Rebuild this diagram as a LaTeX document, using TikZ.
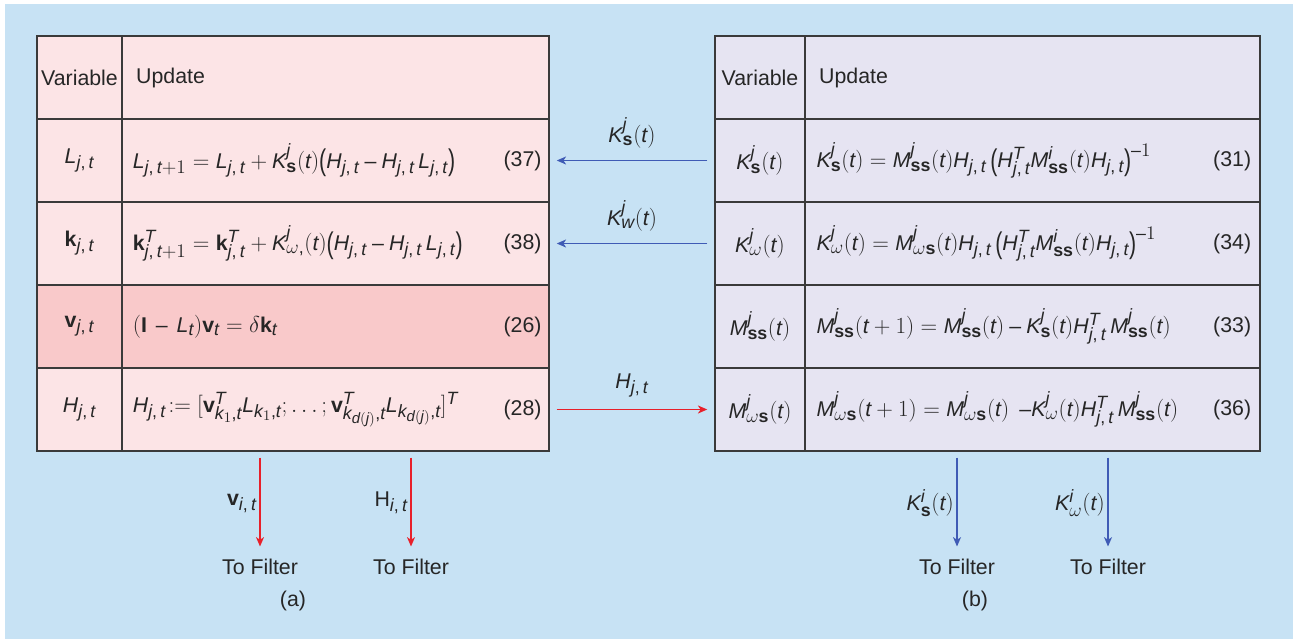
\documentclass[tikz,border=0pt]{standalone}
\usepackage{fontspec}
\setmainfont{Liberation Sans}
\usepackage[italic]{mathastext}
\usepackage{graphicx}
\usetikzlibrary{arrows.meta}
\definecolor{panelbg}{HTML}{C7E2F4}
\definecolor{leftfill}{HTML}{FCE4E6}
\definecolor{hotfill}{HTML}{F9C9CA}
\definecolor{rightfill}{HTML}{E6E4F2}
\definecolor{gridedge}{HTML}{3A3A3A}
\definecolor{kflow}{HTML}{3F5BB5}
\definecolor{hflow}{HTML}{E8202A}
\newcommand{\bigparl}{\mathopen{\raisebox{-2pt}{\scalebox{1}[1.4]{(}}}}
\newcommand{\bigparr}{\mathclose{\raisebox{-2pt}{\scalebox{1}[1.4]{)}}}}

\begin{document}
\begin{tikzpicture}[
  x=0.75pt, y=-0.75pt,
  every node/.style={font=\fontsize{16}{19}\selectfont, text=black!85},
  lvar/.style={rectangle, draw=gridedge, line width=1.1pt, fill=leftfill,
               minimum width=63.75pt, minimum height=62.25pt, inner sep=0pt},
  lupd/.style={lvar, minimum width=320.25pt},
  rvar/.style={rectangle, draw=gridedge, line width=1.1pt, fill=rightfill,
               minimum width=67.5pt, minimum height=62.25pt, inner sep=0pt},
  rupd/.style={rvar, minimum width=341.25pt},
  hot/.style={fill=hotfill},
  eq/.style={anchor=west, inner sep=0pt},
  num/.style={anchor=east, inner sep=0pt},
  kline/.style={draw=kflow, line width=1pt, -{Stealth[length=7pt, width=6pt, inset=2pt]}},
  hline/.style={draw=hflow, line width=1pt, -{Stealth[length=7pt, width=6pt, inset=2pt]}},
  lab/.style={inner sep=2pt},
]
\useasboundingbox (0,0) rectangle (1308,639);
\fill[white] (0,0) rectangle (1308,639);
\fill[panelbg] (5,4) rectangle (1293,639);

% (a) filter side
\node[lvar] (lv0) at (79.5,77.5) {Variable};
\node[lupd] (lu0) at (335.5,77.5) {};
\node[eq] at ([xshift=11pt]lu0.west) {Update};
\node[lvar] (lv1) at (79.5,160.5) {$L_{j,\,t}$};
\node[lupd] (lu1) at (335.5,160.5) {};
\node[eq] at ([xshift=8.5pt]lu1.west) {$L_{j,\,t+1} = L_{j,\,t} + K^j_{\mathbf{s}}(t)\bigparl H_{j,\,t} - H_{j,\,t}\,L_{j,\,t}\bigparr$};
\node[num] at ([xshift=-6pt]lu1.east) {(37)};
\node[lvar] (lv2) at (79.5,243.5) {$\mathbf{k}_{j,\,t}$};
\node[lupd] (lu2) at (335.5,243.5) {};
\node[eq] at ([xshift=8.5pt]lu2.west) {$\mathbf{k}^T_{j,\,t+1} = \mathbf{k}^T_{j,\,t} + K^j_{\omega,}(t)\bigparl H_{j,\,t} - H_{j,\,t}\,L_{j,\,t}\bigparr$};
\node[num] at ([xshift=-6pt]lu2.east) {(38)};
\node[lvar, hot] (lv3) at (79.5,326.5) {$\mathbf{v}_{j,\,t}$};
\node[lupd, hot] (lu3) at (335.5,326.5) {};
\node[eq] at ([xshift=8.5pt]lu3.west) {$(\mathbf{I}\,-\,L_t)\mathbf{v}_t = \delta\mathbf{k}_t$};
\node[num] at ([xshift=-6pt]lu3.east) {(26)};
\node[lvar] (lv4) at (79.5,409.5) {$H_{j,\,t}$};
\node[lupd] (lu4) at (335.5,409.5) {};
\node[eq] at ([xshift=8.5pt]lu4.west) {$H_{j,\,t}\!:=[\mathbf{v}^T_{k_1,t}L_{k_1,t};\ldots;\mathbf{v}^T_{k_{d(j)},t}L_{k_{d(j)},t}]^T$};
\node[num] at ([xshift=-6pt]lu4.east) {(28)};

% (b) gain side
\node[rvar] (rv0) at (760,77.5) {Variable};
\node[rupd] (ru0) at (1032.5,77.5) {};
\node[eq] at ([xshift=11pt]ru0.west) {Update};
\node[rvar] (rv1) at (760,160.5) {$K^j_{\mathbf{s}}(t)$};
\node[rupd] (ru1) at (1032.5,160.5) {};
\node[eq] at ([xshift=9pt]ru1.west) {$K^j_{\mathbf{s}}(t) = M^j_{\mathbf{ss}}(t)H_{j,\,t}\,\bigparl H^T_{j,\,t}M^i_{\mathbf{ss}}(t)H_{j,\,t}\bigparr^{-1}$};
\node[num] at ([xshift=-7pt]ru1.east) {(31)};
\node[rvar] (rv2) at (760,243.5) {$K^j_{\omega}(t)$};
\node[rupd] (ru2) at (1032.5,243.5) {};
\node[eq] at ([xshift=9pt]ru2.west) {$K^j_{\omega}(t) = M^j_{\omega\mathbf{s}}(t)H_{j,\,t}\,\bigparl H^T_{j,\,t}M^i_{\mathbf{ss}}(t)H_{j,\,t}\bigparr^{-1}$};
\node[num] at ([xshift=-7pt]ru2.east) {(34)};
\node[rvar] (rv3) at (760,326.5) {$M^j_{\mathbf{ss}}(t)$};
\node[rupd] (ru3) at (1032.5,326.5) {};
\node[eq] at ([xshift=9pt]ru3.west) {$M^j_{\mathbf{ss}}(t+1) = M^j_{\mathbf{ss}}(t) - K^j_{\mathbf{s}}(t)H^T_{j,\,t}\,M^j_{\mathbf{ss}}(t)$};
\node[num] at ([xshift=-7pt]ru3.east) {(33)};
\node[rvar] (rv4) at (760,409.5) {$M^j_{\omega\mathbf{s}}(t)$};
\node[rupd] (ru4) at (1032.5,409.5) {};
\node[eq] at ([xshift=9pt]ru4.west) {$M^j_{\omega\mathbf{s}}(t+1) = M^j_{\omega\mathbf{s}}(t)\;\,{-}K^j_{\omega}(t)H^T_{j,\,t}\,M^j_{\mathbf{ss}}(t)$};
\node[num] at ([xshift=-7pt]ru4.east) {(36)};

% exchange between the two sides
\draw[kline, shorten <=5.25pt, shorten >=5.25pt] (rv1.west) -- node[above=7pt, lab] {$K^j_{\mathbf{s}}(t)$} (lu1.east);
\draw[kline, shorten <=5.25pt, shorten >=5.25pt] (rv2.west) -- node[above=7pt, lab] {$K^j_{w}(t)$} (lu2.east);
\draw[hline, shorten <=5.25pt, shorten >=5.25pt] (lu4.east) -- node[above=7pt, lab] {$H_{j,\,t}$} (rv4.west);

% outputs
\node (fa1) at (260,567) {To Filter};
\node (fa2) at (411,567) {To Filter};
\node (fb1) at (957,567) {To Filter};
\node (fb2) at (1108,567) {To Filter};
\node (capa) at (293,601) {(a)};
\node (capb) at (975,601) {(b)};
\draw[hline, shorten <=4.5pt, shorten >=6pt] (fa1 |- lu4.south) -- node[left, lab] {$\mathbf{v}_{i,\,t}$} (fa1);
\draw[hline, shorten <=4.5pt, shorten >=6pt] (fa2 |- lu4.south) -- node[left, lab] {$\mathrm{H}_{i,\,t}$} (fa2);
\draw[kline, shorten <=4.5pt, shorten >=6pt] (fb1 |- ru4.south) -- node[left, lab] {$K^i_{\mathbf{s}}(t)$} (fb1);
\draw[kline, shorten <=4.5pt, shorten >=6pt] (fb2 |- ru4.south) -- node[left, lab] {$K^i_{\omega}(t)$} (fb2);
\end{tikzpicture}
\end{document}
